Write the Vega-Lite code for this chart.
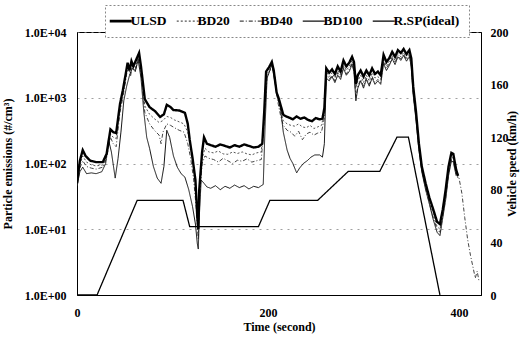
{
  "$schema": "https://vega.github.io/schema/vega-lite/v6.json",
  "autosize": {"type": "none"},
  "width": 404,
  "height": 263,
  "padding": {"left": 77, "top": 32, "right": 39, "bottom": 44},
  "background": "white",
  "config": {
    "view": {"stroke": "black", "strokeWidth": 1},
    "font": "Liberation Serif",
    "axis": {"labelFont": "Liberation Serif", "labelFontWeight": "bold", "labelFontSize": 12, "labelColor": "black", "titleFont": "Liberation Serif", "titleFontWeight": "bold", "titleFontSize": 12, "titleColor": "black", "domainColor": "black", "tickColor": "black"}
  },
  "datasets": {
    "pn": [
      {"t":0,"s":"ULSD","v":50},{"t":3,"s":"ULSD","v":110},{"t":6,"s":"ULSD","v":160},{"t":9,"s":"ULSD","v":130},{"t":14,"s":"ULSD","v":110},{"t":20,"s":"ULSD","v":105},{"t":27,"s":"ULSD","v":105},{"t":31,"s":"ULSD","v":140},{"t":35,"s":"ULSD","v":330},{"t":38,"s":"ULSD","v":300},{"t":41,"s":"ULSD","v":290},{"t":45,"s":"ULSD","v":800},{"t":48,"s":"ULSD","v":1300},{"t":50,"s":"ULSD","v":1900},{"t":52,"s":"ULSD","v":2800},{"t":53,"s":"ULSD","v":3400},{"t":55,"s":"ULSD","v":2600},{"t":57,"s":"ULSD","v":3600},{"t":59,"s":"ULSD","v":3000},{"t":62,"s":"ULSD","v":3800},{"t":65,"s":"ULSD","v":4800},{"t":67,"s":"ULSD","v":3000},{"t":71,"s":"ULSD","v":950},{"t":76,"s":"ULSD","v":720},{"t":82,"s":"ULSD","v":620},{"t":87,"s":"ULSD","v":510},{"t":91,"s":"ULSD","v":560},{"t":94,"s":"ULSD","v":780},{"t":98,"s":"ULSD","v":720},{"t":101,"s":"ULSD","v":650},{"t":107,"s":"ULSD","v":640},{"t":113,"s":"ULSD","v":590},{"t":116,"s":"ULSD","v":400},{"t":118,"s":"ULSD","v":230},{"t":121,"s":"ULSD","v":120},{"t":124,"s":"ULSD","v":56},{"t":126,"s":"ULSD","v":15},{"t":127,"s":"ULSD","v":10},{"t":128,"s":"ULSD","v":40},{"t":131,"s":"ULSD","v":150},{"t":133,"s":"ULSD","v":250},{"t":136,"s":"ULSD","v":200},{"t":140,"s":"ULSD","v":190},{"t":145,"s":"ULSD","v":180},{"t":150,"s":"ULSD","v":195},{"t":155,"s":"ULSD","v":185},{"t":160,"s":"ULSD","v":175},{"t":165,"s":"ULSD","v":190},{"t":170,"s":"ULSD","v":180},{"t":175,"s":"ULSD","v":195},{"t":180,"s":"ULSD","v":185},{"t":185,"s":"ULSD","v":175},{"t":190,"s":"ULSD","v":180},{"t":194,"s":"ULSD","v":200},{"t":196,"s":"ULSD","v":600},{"t":198,"s":"ULSD","v":2500},{"t":201,"s":"ULSD","v":2900},{"t":204,"s":"ULSD","v":3500},{"t":206,"s":"ULSD","v":2600},{"t":209,"s":"ULSD","v":1200},{"t":211,"s":"ULSD","v":1000},{"t":214,"s":"ULSD","v":700},{"t":216,"s":"ULSD","v":550},{"t":219,"s":"ULSD","v":520},{"t":222,"s":"ULSD","v":500},{"t":226,"s":"ULSD","v":470},{"t":230,"s":"ULSD","v":520},{"t":234,"s":"ULSD","v":480},{"t":238,"s":"ULSD","v":500},{"t":242,"s":"ULSD","v":460},{"t":246,"s":"ULSD","v":440},{"t":250,"s":"ULSD","v":490},{"t":254,"s":"ULSD","v":470},{"t":257,"s":"ULSD","v":480},{"t":259,"s":"ULSD","v":700},{"t":261,"s":"ULSD","v":2800},{"t":264,"s":"ULSD","v":2400},{"t":267,"s":"ULSD","v":2700},{"t":270,"s":"ULSD","v":2300},{"t":273,"s":"ULSD","v":3000},{"t":276,"s":"ULSD","v":2500},{"t":279,"s":"ULSD","v":3700},{"t":282,"s":"ULSD","v":3000},{"t":285,"s":"ULSD","v":3400},{"t":288,"s":"ULSD","v":4200},{"t":290,"s":"ULSD","v":3500},{"t":292,"s":"ULSD","v":1600},{"t":294,"s":"ULSD","v":2200},{"t":297,"s":"ULSD","v":2600},{"t":300,"s":"ULSD","v":2100},{"t":303,"s":"ULSD","v":2600},{"t":306,"s":"ULSD","v":2200},{"t":309,"s":"ULSD","v":2800},{"t":312,"s":"ULSD","v":2300},{"t":315,"s":"ULSD","v":2500},{"t":318,"s":"ULSD","v":2200},{"t":321,"s":"ULSD","v":4500},{"t":324,"s":"ULSD","v":3500},{"t":327,"s":"ULSD","v":4000},{"t":330,"s":"ULSD","v":5000},{"t":333,"s":"ULSD","v":4200},{"t":336,"s":"ULSD","v":5300},{"t":339,"s":"ULSD","v":4800},{"t":342,"s":"ULSD","v":5500},{"t":345,"s":"ULSD","v":4600},{"t":348,"s":"ULSD","v":5300},{"t":350,"s":"ULSD","v":4000},{"t":352,"s":"ULSD","v":1500},{"t":355,"s":"ULSD","v":600},{"t":358,"s":"ULSD","v":200},{"t":361,"s":"ULSD","v":90},{"t":365,"s":"ULSD","v":50},{"t":369,"s":"ULSD","v":30},{"t":373,"s":"ULSD","v":20},{"t":377,"s":"ULSD","v":13},{"t":380,"s":"ULSD","v":12},{"t":383,"s":"ULSD","v":20},{"t":386,"s":"ULSD","v":40},{"t":389,"s":"ULSD","v":90},{"t":392,"s":"ULSD","v":145},{"t":394,"s":"ULSD","v":140},{"t":397,"s":"ULSD","v":80},{"t":399,"s":"ULSD","v":65},

      {"t":0,"s":"BD20","v":48},{"t":3,"s":"BD20","v":95},{"t":6,"s":"BD20","v":130},{"t":10,"s":"BD20","v":105},{"t":15,"s":"BD20","v":95},{"t":20,"s":"BD20","v":92},{"t":27,"s":"BD20","v":95},{"t":31,"s":"BD20","v":130},{"t":35,"s":"BD20","v":280},{"t":38,"s":"BD20","v":250},{"t":41,"s":"BD20","v":240},{"t":45,"s":"BD20","v":700},{"t":48,"s":"BD20","v":1100},{"t":50,"s":"BD20","v":1600},{"t":52,"s":"BD20","v":2500},{"t":54,"s":"BD20","v":3000},{"t":56,"s":"BD20","v":2400},{"t":58,"s":"BD20","v":3300},{"t":61,"s":"BD20","v":2800},{"t":63,"s":"BD20","v":3600},{"t":65,"s":"BD20","v":4400},{"t":68,"s":"BD20","v":2200},{"t":71,"s":"BD20","v":750},{"t":76,"s":"BD20","v":560},{"t":81,"s":"BD20","v":480},{"t":86,"s":"BD20","v":420},{"t":90,"s":"BD20","v":450},{"t":94,"s":"BD20","v":520},{"t":98,"s":"BD20","v":500},{"t":102,"s":"BD20","v":460},{"t":107,"s":"BD20","v":430},{"t":112,"s":"BD20","v":400},{"t":116,"s":"BD20","v":300},{"t":119,"s":"BD20","v":180},{"t":122,"s":"BD20","v":90},{"t":125,"s":"BD20","v":30},{"t":127,"s":"BD20","v":8},{"t":128,"s":"BD20","v":30},{"t":131,"s":"BD20","v":120},{"t":134,"s":"BD20","v":170},{"t":138,"s":"BD20","v":150},{"t":143,"s":"BD20","v":145},{"t":148,"s":"BD20","v":155},{"t":153,"s":"BD20","v":140},{"t":158,"s":"BD20","v":138},{"t":163,"s":"BD20","v":150},{"t":168,"s":"BD20","v":142},{"t":173,"s":"BD20","v":150},{"t":178,"s":"BD20","v":140},{"t":183,"s":"BD20","v":135},{"t":188,"s":"BD20","v":145},{"t":193,"s":"BD20","v":150},{"t":196,"s":"BD20","v":500},{"t":199,"s":"BD20","v":2300},{"t":202,"s":"BD20","v":2700},{"t":204,"s":"BD20","v":3300},{"t":207,"s":"BD20","v":2200},{"t":210,"s":"BD20","v":1000},{"t":213,"s":"BD20","v":650},{"t":216,"s":"BD20","v":450},{"t":220,"s":"BD20","v":400},{"t":224,"s":"BD20","v":380},{"t":228,"s":"BD20","v":370},{"t":232,"s":"BD20","v":400},{"t":236,"s":"BD20","v":360},{"t":240,"s":"BD20","v":350},{"t":244,"s":"BD20","v":380},{"t":248,"s":"BD20","v":340},{"t":252,"s":"BD20","v":360},{"t":256,"s":"BD20","v":380},{"t":259,"s":"BD20","v":600},{"t":261,"s":"BD20","v":2500},{"t":264,"s":"BD20","v":2100},{"t":267,"s":"BD20","v":2400},{"t":270,"s":"BD20","v":2000},{"t":273,"s":"BD20","v":2600},{"t":276,"s":"BD20","v":2200},{"t":279,"s":"BD20","v":3200},{"t":282,"s":"BD20","v":2600},{"t":285,"s":"BD20","v":3000},{"t":288,"s":"BD20","v":3700},{"t":290,"s":"BD20","v":3000},{"t":292,"s":"BD20","v":1400},{"t":294,"s":"BD20","v":1800},{"t":297,"s":"BD20","v":2200},{"t":300,"s":"BD20","v":1700},{"t":303,"s":"BD20","v":2200},{"t":306,"s":"BD20","v":1800},{"t":309,"s":"BD20","v":2400},{"t":312,"s":"BD20","v":2000},{"t":315,"s":"BD20","v":2100},{"t":318,"s":"BD20","v":1900},{"t":321,"s":"BD20","v":3800},{"t":324,"s":"BD20","v":3000},{"t":327,"s":"BD20","v":3600},{"t":330,"s":"BD20","v":4400},{"t":333,"s":"BD20","v":3700},{"t":336,"s":"BD20","v":4700},{"t":339,"s":"BD20","v":4200},{"t":342,"s":"BD20","v":4900},{"t":345,"s":"BD20","v":4000},{"t":348,"s":"BD20","v":4700},{"t":350,"s":"BD20","v":3500},{"t":352,"s":"BD20","v":1300},{"t":355,"s":"BD20","v":550},{"t":358,"s":"BD20","v":190},{"t":361,"s":"BD20","v":85},{"t":365,"s":"BD20","v":45},{"t":369,"s":"BD20","v":27},{"t":373,"s":"BD20","v":17},{"t":377,"s":"BD20","v":11},{"t":380,"s":"BD20","v":10},{"t":383,"s":"BD20","v":18},{"t":386,"s":"BD20","v":35},{"t":389,"s":"BD20","v":80},{"t":392,"s":"BD20","v":125},{"t":394,"s":"BD20","v":120},{"t":397,"s":"BD20","v":70},{"t":399,"s":"BD20","v":60},

      {"t":0,"s":"BD40","v":46},{"t":3,"s":"BD40","v":85},{"t":6,"s":"BD40","v":110},{"t":10,"s":"BD40","v":90},{"t":15,"s":"BD40","v":85},{"t":20,"s":"BD40","v":82},{"t":27,"s":"BD40","v":88},{"t":31,"s":"BD40","v":120},{"t":35,"s":"BD40","v":250},{"t":38,"s":"BD40","v":200},{"t":41,"s":"BD40","v":180},{"t":45,"s":"BD40","v":600},{"t":48,"s":"BD40","v":1000},{"t":50,"s":"BD40","v":1500},{"t":52,"s":"BD40","v":2300},{"t":54,"s":"BD40","v":2800},{"t":56,"s":"BD40","v":2100},{"t":58,"s":"BD40","v":3100},{"t":61,"s":"BD40","v":2600},{"t":63,"s":"BD40","v":3300},{"t":65,"s":"BD40","v":4000},{"t":68,"s":"BD40","v":1700},{"t":71,"s":"BD40","v":600},{"t":76,"s":"BD40","v":400},{"t":81,"s":"BD40","v":320},{"t":86,"s":"BD40","v":270},{"t":88,"s":"BD40","v":200},{"t":90,"s":"BD40","v":300},{"t":94,"s":"BD40","v":400},{"t":98,"s":"BD40","v":380},{"t":102,"s":"BD40","v":350},{"t":107,"s":"BD40","v":320},{"t":112,"s":"BD40","v":300},{"t":116,"s":"BD40","v":200},{"t":119,"s":"BD40","v":120},{"t":122,"s":"BD40","v":60},{"t":125,"s":"BD40","v":20},{"t":127,"s":"BD40","v":7},{"t":128,"s":"BD40","v":25},{"t":131,"s":"BD40","v":100},{"t":134,"s":"BD40","v":130},{"t":138,"s":"BD40","v":120},{"t":143,"s":"BD40","v":115},{"t":148,"s":"BD40","v":105},{"t":153,"s":"BD40","v":120},{"t":158,"s":"BD40","v":110},{"t":163,"s":"BD40","v":100},{"t":168,"s":"BD40","v":112},{"t":173,"s":"BD40","v":108},{"t":178,"s":"BD40","v":118},{"t":183,"s":"BD40","v":105},{"t":188,"s":"BD40","v":110},{"t":193,"s":"BD40","v":115},{"t":196,"s":"BD40","v":450},{"t":199,"s":"BD40","v":2100},{"t":202,"s":"BD40","v":2600},{"t":204,"s":"BD40","v":3100},{"t":207,"s":"BD40","v":2000},{"t":210,"s":"BD40","v":900},{"t":213,"s":"BD40","v":550},{"t":216,"s":"BD40","v":380},{"t":220,"s":"BD40","v":320},{"t":224,"s":"BD40","v":300},{"t":228,"s":"BD40","v":260},{"t":232,"s":"BD40","v":310},{"t":236,"s":"BD40","v":230},{"t":240,"s":"BD40","v":280},{"t":244,"s":"BD40","v":300},{"t":248,"s":"BD40","v":270},{"t":252,"s":"BD40","v":290},{"t":256,"s":"BD40","v":300},{"t":259,"s":"BD40","v":500},{"t":261,"s":"BD40","v":2300},{"t":264,"s":"BD40","v":1900},{"t":267,"s":"BD40","v":2200},{"t":270,"s":"BD40","v":1800},{"t":273,"s":"BD40","v":2400},{"t":276,"s":"BD40","v":2000},{"t":279,"s":"BD40","v":3000},{"t":282,"s":"BD40","v":2300},{"t":285,"s":"BD40","v":2700},{"t":288,"s":"BD40","v":3400},{"t":290,"s":"BD40","v":2700},{"t":292,"s":"BD40","v":1000},{"t":294,"s":"BD40","v":1500},{"t":297,"s":"BD40","v":1900},{"t":300,"s":"BD40","v":1500},{"t":303,"s":"BD40","v":2000},{"t":306,"s":"BD40","v":1600},{"t":309,"s":"BD40","v":2100},{"t":312,"s":"BD40","v":1700},{"t":315,"s":"BD40","v":1900},{"t":318,"s":"BD40","v":1700},{"t":321,"s":"BD40","v":3500},{"t":324,"s":"BD40","v":2800},{"t":327,"s":"BD40","v":3300},{"t":330,"s":"BD40","v":4100},{"t":333,"s":"BD40","v":3400},{"t":336,"s":"BD40","v":4400},{"t":339,"s":"BD40","v":3900},{"t":342,"s":"BD40","v":4600},{"t":345,"s":"BD40","v":3800},{"t":348,"s":"BD40","v":4400},{"t":350,"s":"BD40","v":3200},{"t":352,"s":"BD40","v":1200},{"t":355,"s":"BD40","v":500},{"t":358,"s":"BD40","v":170},{"t":361,"s":"BD40","v":80},{"t":365,"s":"BD40","v":42},{"t":369,"s":"BD40","v":25},{"t":373,"s":"BD40","v":15},{"t":377,"s":"BD40","v":10},{"t":380,"s":"BD40","v":9},{"t":383,"s":"BD40","v":16},{"t":386,"s":"BD40","v":30},{"t":389,"s":"BD40","v":70},{"t":392,"s":"BD40","v":115},{"t":394,"s":"BD40","v":110},{"t":397,"s":"BD40","v":70},{"t":400,"s":"BD40","v":60},{"t":403,"s":"BD40","v":35},{"t":406,"s":"BD40","v":15},{"t":409,"s":"BD40","v":7},{"t":412,"s":"BD40","v":4},{"t":415,"s":"BD40","v":2.5},{"t":417,"s":"BD40","v":1.8},{"t":419,"s":"BD40","v":2.3},{"t":421,"s":"BD40","v":1.6},

      {"t":0,"s":"BD100","v":45},{"t":3,"s":"BD100","v":75},{"t":6,"s":"BD100","v":88},{"t":10,"s":"BD100","v":70},{"t":15,"s":"BD100","v":72},{"t":20,"s":"BD100","v":70},{"t":26,"s":"BD100","v":75},{"t":30,"s":"BD100","v":100},{"t":33,"s":"BD100","v":230},{"t":36,"s":"BD100","v":150},{"t":40,"s":"BD100","v":60},{"t":43,"s":"BD100","v":120},{"t":46,"s":"BD100","v":300},{"t":49,"s":"BD100","v":900},{"t":52,"s":"BD100","v":1500},{"t":55,"s":"BD100","v":2200},{"t":58,"s":"BD100","v":2800},{"t":61,"s":"BD100","v":2500},{"t":64,"s":"BD100","v":3800},{"t":67,"s":"BD100","v":2000},{"t":70,"s":"BD100","v":600},{"t":73,"s":"BD100","v":250},{"t":76,"s":"BD100","v":170},{"t":80,"s":"BD100","v":90},{"t":84,"s":"BD100","v":60},{"t":88,"s":"BD100","v":50},{"t":91,"s":"BD100","v":90},{"t":94,"s":"BD100","v":320},{"t":97,"s":"BD100","v":250},{"t":101,"s":"BD100","v":130},{"t":105,"s":"BD100","v":88},{"t":109,"s":"BD100","v":70},{"t":113,"s":"BD100","v":62},{"t":117,"s":"BD100","v":40},{"t":121,"s":"BD100","v":22},{"t":124,"s":"BD100","v":12},{"t":126,"s":"BD100","v":6},{"t":127,"s":"BD100","v":5},{"t":128,"s":"BD100","v":15},{"t":130,"s":"BD100","v":56},{"t":133,"s":"BD100","v":50},{"t":136,"s":"BD100","v":44},{"t":140,"s":"BD100","v":42},{"t":145,"s":"BD100","v":46},{"t":150,"s":"BD100","v":40},{"t":155,"s":"BD100","v":45},{"t":160,"s":"BD100","v":42},{"t":165,"s":"BD100","v":47},{"t":170,"s":"BD100","v":43},{"t":175,"s":"BD100","v":46},{"t":180,"s":"BD100","v":41},{"t":185,"s":"BD100","v":45},{"t":190,"s":"BD100","v":43},{"t":195,"s":"BD100","v":48},{"t":197,"s":"BD100","v":400},{"t":199,"s":"BD100","v":2000},{"t":202,"s":"BD100","v":2600},{"t":204,"s":"BD100","v":3300},{"t":206,"s":"BD100","v":2200},{"t":209,"s":"BD100","v":1200},{"t":213,"s":"BD100","v":700},{"t":216,"s":"BD100","v":300},{"t":220,"s":"BD100","v":160},{"t":223,"s":"BD100","v":120},{"t":226,"s":"BD100","v":100},{"t":230,"s":"BD100","v":72},{"t":233,"s":"BD100","v":85},{"t":237,"s":"BD100","v":100},{"t":241,"s":"BD100","v":110},{"t":245,"s":"BD100","v":125},{"t":249,"s":"BD100","v":135},{"t":254,"s":"BD100","v":135},{"t":257,"s":"BD100","v":125},{"t":259,"s":"BD100","v":200},{"t":261,"s":"BD100","v":2000},{"t":264,"s":"BD100","v":1800},{"t":267,"s":"BD100","v":2100},{"t":270,"s":"BD100","v":1700},{"t":273,"s":"BD100","v":2200},{"t":276,"s":"BD100","v":1900},{"t":279,"s":"BD100","v":2800},{"t":282,"s":"BD100","v":2200},{"t":285,"s":"BD100","v":2500},{"t":288,"s":"BD100","v":3200},{"t":290,"s":"BD100","v":2500},{"t":292,"s":"BD100","v":900},{"t":294,"s":"BD100","v":1400},{"t":297,"s":"BD100","v":1800},{"t":300,"s":"BD100","v":1400},{"t":303,"s":"BD100","v":1900},{"t":306,"s":"BD100","v":1500},{"t":309,"s":"BD100","v":2000},{"t":312,"s":"BD100","v":1600},{"t":315,"s":"BD100","v":1800},{"t":318,"s":"BD100","v":1600},{"t":321,"s":"BD100","v":3300},{"t":324,"s":"BD100","v":2600},{"t":327,"s":"BD100","v":3100},{"t":330,"s":"BD100","v":3900},{"t":333,"s":"BD100","v":3200},{"t":336,"s":"BD100","v":4200},{"t":339,"s":"BD100","v":3700},{"t":342,"s":"BD100","v":4400},{"t":345,"s":"BD100","v":3600},{"t":348,"s":"BD100","v":4200},{"t":350,"s":"BD100","v":3000},{"t":352,"s":"BD100","v":1100},{"t":355,"s":"BD100","v":450},{"t":358,"s":"BD100","v":160},{"t":361,"s":"BD100","v":75},{"t":365,"s":"BD100","v":40},{"t":369,"s":"BD100","v":24},{"t":373,"s":"BD100","v":14},{"t":377,"s":"BD100","v":9},{"t":380,"s":"BD100","v":8},{"t":383,"s":"BD100","v":15},{"t":386,"s":"BD100","v":28},{"t":389,"s":"BD100","v":65},{"t":392,"s":"BD100","v":110},{"t":394,"s":"BD100","v":105},{"t":397,"s":"BD100","v":65}
    ],
    "speed": [
      {"t":0,"sp":0,"s":"R.SP(ideal)"},{"t":21,"sp":0,"s":"R.SP(ideal)"},{"t":63,"sp":72,"s":"R.SP(ideal)"},{"t":111,"sp":72,"s":"R.SP(ideal)"},{"t":118,"sp":52,"s":"R.SP(ideal)"},{"t":190,"sp":52,"s":"R.SP(ideal)"},{"t":202,"sp":72,"s":"R.SP(ideal)"},{"t":252,"sp":72,"s":"R.SP(ideal)"},{"t":284,"sp":94,"s":"R.SP(ideal)"},{"t":317,"sp":94,"s":"R.SP(ideal)"},{"t":335,"sp":120,"s":"R.SP(ideal)"},{"t":347,"sp":120,"s":"R.SP(ideal)"},{"t":380,"sp":0,"s":"R.SP(ideal)"}
    ]
  },
  "encoding": {
    "x": {"field": "t", "type": "quantitative", "scale": {"domain": [0, 423], "nice": false, "zero": false},
      "axis": {"values": [0, 200, 400], "title": "Time (second)", "ticks": false, "grid": false, "labelPadding": 12, "titlePadding": 3, "labelFlush": false}},
    "color": {"field": "s", "type": "nominal", "scale": {"domain": ["ULSD", "BD20", "BD40", "BD100", "R.SP(ideal)"], "range": ["#000000", "#555555", "#444444", "#111111", "#000000"]},
      "legend": {"orient": "none", "legendX": 28, "legendY": -27, "direction": "horizontal", "columns": 5, "title": null, "symbolType": "stroke", "symbolSize": 484, "symbolStrokeWidth": 1.2, "labelFont": "Liberation Serif", "labelFontWeight": "bold", "labelFontSize": 13.5, "labelColor": "black", "labelOffset": 3, "columnPadding": 7, "padding": 9, "fillColor": "white", "strokeColor": "#888888",
        "encode": {"legend": {"update": {"strokeDash": {"value": [2, 2]}}}, "symbols": {"update": {"strokeWidth": {"signal": "datum.value === 'ULSD' ? 2.6 : 1.1"}}}}}
    },
    "strokeDash": {"field": "s", "type": "nominal", "scale": {"domain": ["ULSD", "BD20", "BD40", "BD100", "R.SP(ideal)"], "range": [[1, 0], [2, 2], [4, 2, 1, 2], [1, 0], [1, 0]]}, "legend": null}
  },
  "layer": [
    {
      "data": {"name": "pn"},
      "encoding": {
        "y": {"field": "v", "type": "quantitative", "scale": {"type": "log", "domain": [1, 10000], "nice": false},
          "axis": {"values": [1, 10, 100, 1000, 10000], "labelExpr": "'1.0E+0' + round(log(datum.value)/LN10)", "title": "Particle emissions (#/cm³)", "ticks": false, "labelPadding": 11, "titlePadding": 10, "grid": true, "gridDash": [2, 5], "gridColor": "#888888", "gridWidth": 0.8}}
      },
      "layer": [
        {
          "transform": [{"filter": "datum.s !== 'ULSD'"}],
          "mark": {"type": "line", "strokeWidth": 1, "clip": true},
          "encoding": {"detail": {"field": "s"}}
        },
        {
          "transform": [{"filter": "datum.s === 'ULSD'"}],
          "mark": {"type": "line", "strokeWidth": 2.4, "clip": true},
          "encoding": {}
        }
      ]
    },
    {
      "data": {"name": "speed"},
      "mark": {"type": "line", "strokeWidth": 1.3, "clip": true},
      "encoding": {
        "y": {"field": "sp", "type": "quantitative", "scale": {"domain": [0, 200], "nice": false},
          "axis": {"orient": "right", "values": [0, 40, 80, 120, 160, 200], "title": "Vehicle speed (km/h)", "titleAngle": 270, "grid": false, "ticks": false, "labelPadding": 9, "titlePadding": 10}}
      }
    }
  ],
  "resolve": {"scale": {"y": "independent"}}
}
